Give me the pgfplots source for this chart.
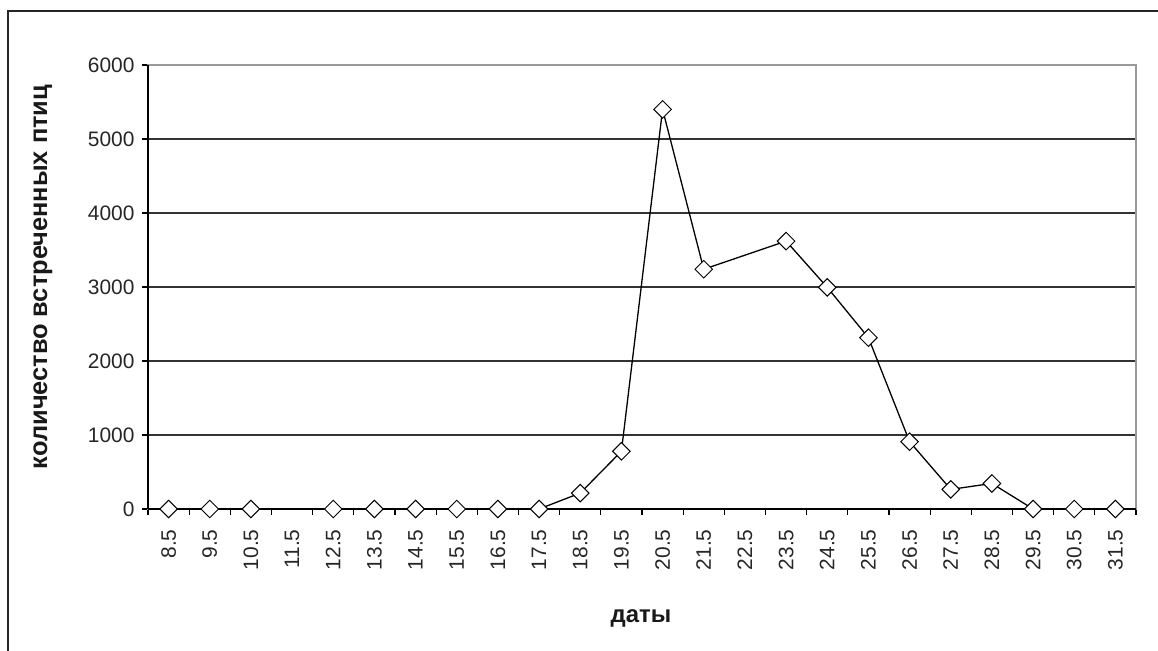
\documentclass[border=0pt]{standalone}
\usepackage{pgfplots}
\pgfplotsset{compat=1.18}
\usepackage{fontspec}
\setmainfont{Liberation Sans}
\begin{document}
\begin{tikzpicture}
\useasboundingbox (0bp,0bp) rectangle (1158bp,651bp);
\draw[line width=2bp, black!85] (8bp,0bp) -- (8bp,640bp) -- (1158bp,640bp);
\begin{axis}[
  at={(148bp,142bp)}, anchor=south west,
  scale only axis, width=988bp, height=444bp,
  xmin=-0.5, xmax=23.5, ymin=0, ymax=6000,
  clip=false,
  axis line style={draw=gray!80, line width=1.3bp},
  xtick={0,...,23},
  xticklabels={8.5,9.5,10.5,11.5,12.5,13.5,14.5,15.5,16.5,17.5,18.5,19.5,20.5,21.5,22.5,23.5,24.5,25.5,26.5,27.5,28.5,29.5,30.5,31.5},
  minor xtick={-0.5,0.5,...,23.5},
  ytick={0,1000,...,6000},
  tick align=outside,
  x tick style={draw=none},
  minor x tick style={draw=black, line width=1.3bp},
  minor tick length=6bp,
  major tick length=6bp,
  y tick style={draw=black, line width=1.3bp},
  xtick pos=bottom, ytick pos=left,
  ymajorgrids,
  grid style={draw=black!80, line width=1.3bp},
  tick label style={font=\fontsize{21}{24}\selectfont, text=black!85},
  /pgf/number format/assume math mode=true,
  scaled y ticks=false,
  yticklabel style={/pgf/number format/1000 sep={}},
  xticklabel style={rotate=90, anchor=east},
  xticklabel shift=11bp,
  yticklabel shift=4bp,
]
\addplot[black, line width=1.3bp, mark=square*, mark size=6.2bp,
  mark options={rotate=45, fill=white, draw=black, line width=1bp}]
  coordinates {
  (0,0) (1,0) (2,0) (4,0) (5,0) (6,0) (7,0) (8,0) (9,0)
  (10,215) (11,780) (12,5400) (13,3240) (15,3620) (16,2995)
  (17,2315) (18,910) (19,265) (20,345) (21,0) (22,0) (23,0)
  };
\draw[black, line width=1.5bp] (rel axis cs:0,0) -- (rel axis cs:0,1);
\draw[black, line width=1.5bp] (rel axis cs:0,0) -- (rel axis cs:1,0);
\end{axis}
\node[rotate=90, font=\bfseries\fontsize{25.5}{28}\selectfont, text=black!90] at (43bp,374bp) {количество встреченных птиц};
\node[font=\bfseries\fontsize{24}{28}\selectfont, text=black!90] at (641bp,33bp) {даты};
\end{tikzpicture}
\end{document}
